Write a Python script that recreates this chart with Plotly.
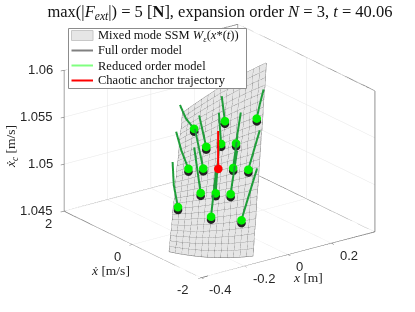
import plotly.graph_objects as go

# sheet grid: offsets along the two families of mesh lines
col_x = [-.36,-.343,-.326,-.308,-.291,-.274,-.257,-.239,-.222,-.205,-.188,-.171,-.153,-.136]
col_y = [-.808,-.887,-.967,-1.046,-1.126,-1.205,-1.285,-1.364,-1.443,-1.523,-1.602,-1.681,-1.761,-1.84]
col_rise = [0,.077,.154,.231,.308,.385,.462,.538,.615,.692,.769,.846,.923,1]
col_bow = [0,.284,.521,.710,.852,.947,.994,.994,.947,.852,.710,.521,.284,0]
row_x = [0,.015,.030,.044,.059,.074,.089,.103,.118,.133,.148,.162,.177,.192,.207,.222,.236,.251,.266,.281,.295,.310,.325,.340,.354,.369,.384]
row_y = [0,.08,.16,.24,.31,.39,.47,.55,.63,.71,.78,.86,.94,1.02,1.10,1.18,1.26,1.33,1.41,1.49,1.57,1.65,1.73,1.80,1.88,1.96,2.04]
row_z = [1.04541,1.04575,1.04609,1.04643,1.04677,1.04711,1.04745,1.04778,1.04812,1.04846,1.04880,1.04914,1.04948,1.04982,1.05016,1.05050,1.05084,1.05118,1.05151,1.05185,1.05219,1.05253,1.05287,1.05321,1.05355,1.05389,1.05423]
row_rise = [0,.00022,.00045,.00067,.00089,.00112,.00134,.00156,.00178,.00201,.00223,.00245,.00268,.0029,.00312,.00335,.00357,.00379,.00401,.00424,.00446,.00468,.00491,.00513,.00535,.00558,.0058]
row_bow = [-.00038,-.00035,-.00032,-.0003,-.00027,-.00024,-.00021,-.00019,-.00016,-.00013,-.00011,-.00008,-.00005,-.00003,0,.00003,.00005,.00008,.00011,.00013,.00016,.00019,.00021,.00024,.00027,.00029,.00032]

# reduced order trajectories: start ... end (the end carries the marker)
rom_x = [[.096,.047],[.1746,.140,.1088],[.0206,-.0052,-.0196],[.0196,-.042],[.0547,-.0088],[.0919,.0208],
         [-.0512,-.0928,-.1262],[-.0185,-.0977],[.0377,-.0345],[.0912,-.005],[-.0651,-.1577],[-.017,-.1263],
         [.0067,-.0929],[-.138,-.196,-.243],[-.0694,-.1861],[.0161,-.0496,-.1172]]
rom_y = [[.543,.141],[-.180,-.287,-.395],[1.283,.945,.619],[.717,.124],[.364,-.101],[-.039,-.348],
         [.940,.526,.109],[.599,-.144],[-.285,-.615],[-.596,-.870],[.326,-.447],[-.094,-.687],
         [-.470,-.910],[.494,.092,-.325],[-.351,-.93],[-.993,-1.18,-1.38]]
rom_z = [[1.05679,1.05515],[1.0583,1.0571,1.0560],[1.0550,1.0543,1.0539],[1.0549,1.0530],[1.0556,1.0535],[1.0561,1.0538],
         [1.0532,1.0522,1.0512],[1.0539,1.0515],[1.0544,1.0520],[1.0552,1.0521],[1.0527,1.0498],[1.0533,1.0500],
         [1.0533,1.0501],[1.0513,1.0499,1.0486],[1.0518,1.0483],[1.0523,1.0503,1.0483]]
fom_end_z = [1.05488,1.0557,1.0536,1.0527,1.0532,1.0535,1.0509,1.0512,1.0517,1.0518,1.0495,1.0497,1.0498,1.0483,1.0480,1.0480]
anchor_x = [-.008,-.090]
anchor_y = [-.011,-.531]
anchor_z = [1.0547,1.0521]

x_ticks = [-0.4,-0.2,0,0.2]
y_ticks = [-2,0,2]
z_ticks = [1.045,1.05,1.055,1.06]
x_tick_text = ['-0.4','-0.2','0','0.2']
y_tick_text = ['-2','0','2']
z_tick_text = ['1.045','1.05','1.055','1.06']
x_lim = [-.4,.4]
y_lim = [-2,2]
z_lim = [1.045,1.06]

legend_labels = ['Mixed mode SSM <i>W<sub>ε</sub></i>(<i>x</i>*(<i>t</i>))','Full order model','Reduced order model','Chaotic anchor trajectory']
legend_colors = ['#e6e6e6','#808080','#80ff80','#ff0000']

X = [[cx+rx for cx in col_x] for rx in row_x]
Y = [[cy+ry for cy in col_y] for ry in row_y]
Z = [[rz+rr*cr+rb*cb for cr,cb in zip(col_rise,col_bow)] for rz,rr,rb in zip(row_z,row_rise,row_bow)]

def gapped(groups):
    out=[]
    for g in groups:
        out += list(g)+[None]
    return out

mx,my,mz=[],[],[]
for i in range(len(row_x)):
    mx+=X[i]+[None]; my+=Y[i]+[None]; mz+=Z[i]+[None]
for j in range(len(col_x)):
    mx+=[X[i][j] for i in range(len(row_x))]+[None]
    my+=[Y[i][j] for i in range(len(row_x))]+[None]
    mz+=[Z[i][j] for i in range(len(row_x))]+[None]

x0,x1=x_lim; y0,y1=y_lim; z0,z1=z_lim
bx=[x0,x1,x1,x0,x0,None,x0,x0,None,x1,x1,None,x1,x1,None,x0,x1,None,x1,x1]
by=[y0,y0,y1,y1,y0,None,y1,y1,None,y1,y1,None,y0,y0,None,y1,y1,None,y1,y0]
bz=[z0,z0,z0,z0,z0,None,z0,z1,None,z0,z1,None,z0,z1,None,z1,z1,None,z1,z1]

fig=go.Figure()
fig.add_trace(go.Surface(x=X,y=Y,z=Z,surfacecolor=[[0]*len(col_x) for _ in row_x],
    colorscale=[[0,'#e6e6e6'],[1,'#e6e6e6']],showscale=False,
    lighting=dict(ambient=1,diffuse=0,specular=0,roughness=1,fresnel=0),hoverinfo='skip'))
fig.add_trace(go.Scatter3d(x=mx,y=my,z=mz,mode='lines',line=dict(color='#666666',width=1),hoverinfo='skip'))
fig.add_trace(go.Scatter3d(x=bx,y=by,z=bz,mode='lines',line=dict(color='#555555',width=1.5),hoverinfo='skip'))
fig.add_trace(go.Scatter3d(x=gapped(rom_x),y=gapped(rom_y),z=gapped(rom_z),mode='lines',
    line=dict(color='#1f9e3a',width=4)))
fig.add_trace(go.Scatter3d(x=[g[-1] for g in rom_x],y=[g[-1] for g in rom_y],z=fom_end_z,mode='markers',
    marker=dict(color='#222222',size=5)))
fig.add_trace(go.Scatter3d(x=[g[-1] for g in rom_x],y=[g[-1] for g in rom_y],z=[g[-1] for g in rom_z],mode='markers',
    marker=dict(color='#00f000',size=5)))
fig.add_trace(go.Scatter3d(x=anchor_x,y=anchor_y,z=anchor_z,mode='lines',line=dict(color='#ff0000',width=4)))
fig.add_trace(go.Scatter3d(x=anchor_x[-1:],y=anchor_y[-1:],z=anchor_z[-1:],mode='markers',
    marker=dict(color='#ff0000',size=5)))

tick=dict(family='Liberation Sans',size=13,color='#262626')
ax=dict(showbackground=False,showspikes=False,gridcolor='#e6e6e6',gridwidth=1,zeroline=False,showline=False,
        ticks='outside',ticklen=4,tickcolor='#555555',showticklabels=False,title=dict(text=''))

# tick labels sit at the axis values, in the scene
scene_notes=[]
for v,t in zip(x_ticks,x_tick_text):
    scene_notes.append(dict(x=v,y=y0,z=z0,text=t,showarrow=False,xanchor='left',yanchor='middle',xshift=6,yshift=-12,font=tick))
for v,t in zip(y_ticks,y_tick_text):
    scene_notes.append(dict(x=x0,y=v,z=z0,text=t,showarrow=False,xanchor='right',yanchor='middle',xshift=-10,yshift=-12,font=tick))
for v,t in zip(z_ticks,z_tick_text):
    scene_notes.append(dict(x=x0,y=y1,z=v,text=t,showarrow=False,xanchor='right',yanchor='middle',xshift=-9,yshift=1,font=tick))

W,H=415,312
def px(v): return v/W
def py(v): return 1-v/H
ttl=dict(family='Liberation Serif',size=13.5,color='#222222')
shapes=[dict(type='rect',xref='paper',yref='paper',x0=px(68.5),x1=px(246.5),y0=py(28.5),y1=py(88.5),
             fillcolor='white',line=dict(color='#8c8c8c',width=1),layer='above')]
annots=[dict(text='<i>x</i> [m]',x=px(308),y=py(277),xref='paper',yref='paper',xanchor='center',yanchor='middle',showarrow=False,font=ttl),
        dict(text='<i>ẋ</i> [m/s]',x=px(110),y=py(270),xref='paper',yref='paper',xanchor='center',yanchor='middle',showarrow=False,font=ttl),
        dict(text='<i>ẋ<sub>c</sub></i> [m/s]',x=px(11),y=py(147),xref='paper',yref='paper',xanchor='center',yanchor='middle',showarrow=False,font=ttl,textangle=-90)]
for k,(lab,col) in enumerate(zip(legend_labels,legend_colors)):
    yc=35.5+k*15
    if k==0:
        shapes.append(dict(type='rect',xref='paper',yref='paper',x0=px(71.5),x1=px(93),y0=py(yc+5),y1=py(yc-5),
                           fillcolor=col,line=dict(color='#c8c8c8',width=1),layer='above'))
    else:
        shapes.append(dict(type='line',xref='paper',yref='paper',x0=px(71.5),x1=px(93),y0=py(yc),y1=py(yc),
                           line=dict(color=col,width=2),layer='above'))
    annots.append(dict(text=lab,x=px(96),y=py(yc),xref='paper',yref='paper',xanchor='left',yanchor='middle',showarrow=False,
                       font=dict(family='Liberation Serif',size=12.5,color='#111111')))

fig.update_layout(
    width=W,height=H,margin=dict(l=0,r=0,t=0,b=0),paper_bgcolor='white',showlegend=False,
    title=dict(text='max(|<i>F<sub>ext</sub></i>|) = 5 [<b>N</b>], expansion order <i>N</i> = 3, <i>t</i> = 40.06',
               x=.53,xanchor='center',y=.965,yanchor='middle',font=dict(family='Liberation Serif',size=16.5,color='#111111')),
    shapes=shapes,annotations=annots,
    scene=dict(domain=dict(x=[24/415,1],y=[10/312,1]),aspectmode='manual',aspectratio=dict(x=1.43,y=1.53,z=1.0),
        camera=dict(projection=dict(type='orthographic'),up=dict(x=0,y=0,z=1),center=dict(x=0,y=0,z=0),
                    eye=dict(x=-1.10,y=-1.49,z=.71)),
        xaxis=dict(ax,range=x_lim,tickvals=x_ticks),
        yaxis=dict(ax,range=y_lim,tickvals=y_ticks),
        zaxis=dict(ax,range=z_lim,tickvals=z_ticks),
        annotations=scene_notes,
    ))
fig.write_html('out.html',post_script='document.body.style.margin="0";',config=dict(displayModeBar=False))
